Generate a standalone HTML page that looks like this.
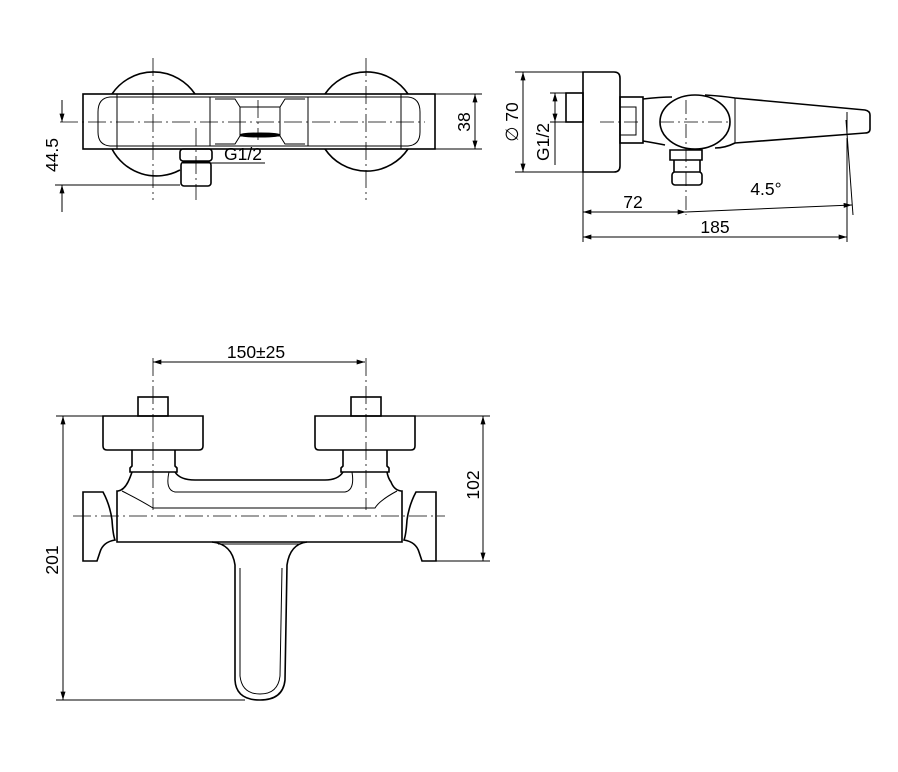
<!DOCTYPE html>
<html><head><meta charset="utf-8"><style>
html,body{margin:0;padding:0;background:#fff}
svg{display:block}
text{font-family:"Liberation Sans",sans-serif;font-size:17.5px;fill:#000}
</style></head><body>
<svg width="898" height="772" viewBox="0 0 898 772" xmlns="http://www.w3.org/2000/svg">
<defs>
<marker id="a" viewBox="0 0 10 6" refX="10" refY="3" markerWidth="10" markerHeight="5" orient="auto-start-reverse" markerUnits="userSpaceOnUse"><path d="M0,0 L10,3 L0,6 Z" fill="#000" stroke="none"/></marker>
</defs>
<g fill="none" stroke="#000" stroke-width="1">

<!-- ===== TOP VIEW ===== -->
<g stroke-width="1.6">
<path d="M112,94 A50,50 0 0 1 195,94"/>
<path d="M112,149 A50,50 0 0 0 180,170"/>
<path d="M325,94 A50,50 0 0 1 408,94"/>
<path d="M325,149 A50,50 0 0 0 408,149"/>
<rect x="83" y="94" width="352" height="55"/>
<rect x="180" y="149" width="32" height="12" rx="3"/>
<rect x="181" y="162" width="30" height="24" rx="3"/>
</g>
<line x1="115" y1="97" x2="403" y2="97"/>
<line x1="115" y1="146" x2="403" y2="146"/>
<path d="M117,97 L110,97 Q98,98 98,112 L98,132 Q98,145 110,146 L117,146"/>
<path d="M401,97 L408,97 Q420,98 420,112 L420,132 Q420,145 408,146 L401,146"/>
<line x1="117" y1="94" x2="117" y2="149"/>
<line x1="401" y1="94" x2="401" y2="149"/>
<line x1="210" y1="97" x2="210" y2="146"/>
<line x1="308" y1="97" x2="308" y2="146"/>
<path d="M215,99 L235,99 L240,107 L280,107 L285,99 L305,99"/>
<path d="M215,144 L235,144 L240,136 L280,136 L285,144 L305,144"/>
<line x1="240" y1="107" x2="240" y2="136"/>
<line x1="280" y1="107" x2="280" y2="136"/>
<ellipse cx="260" cy="135" rx="20" ry="2" fill="#000"/>
<line x1="183" y1="163" x2="265" y2="163"/>
<g stroke-width="0.8" stroke-dasharray="18,4,2,4">
<line x1="153" y1="58" x2="153" y2="200"/>
<line x1="366" y1="58" x2="366" y2="200"/>
<line x1="60" y1="122" x2="425" y2="122"/>
<line x1="196" y1="128" x2="196" y2="200"/>
<line x1="258" y1="100" x2="258" y2="140"/>
</g>
<line x1="55" y1="185" x2="180" y2="185"/>
<line x1="62" y1="100" x2="62" y2="122" marker-end="url(#a)"/>
<line x1="62" y1="212" x2="62" y2="185" marker-end="url(#a)"/>
<line x1="435" y1="94" x2="482" y2="94"/>
<line x1="435" y1="149" x2="482" y2="149"/>
<line x1="475" y1="94" x2="475" y2="149" marker-start="url(#a)" marker-end="url(#a)"/>

<!-- ===== SIDE VIEW ===== -->
<g stroke-width="1.6">
<path d="M583,72 L614,72 Q620,72 620,78 L620,166 Q620,172 614,172 L583,172 Z"/>
<rect x="566" y="93" width="17" height="29"/>
<rect x="620" y="97" width="23" height="46"/>
<path d="M643,99 Q660,97 672,97"/>
<path d="M643,141 Q655,143 665,145"/>
<ellipse cx="695" cy="122" rx="35" ry="27"/>
<path d="M705,95 Q722,96 735,98 L865,110 Q870,111 870,115 L870,129 Q870,133 865,133 L735,143 Q725,148 715,148"/>
<path d="M670,150 L702,150 L702,160 L670,160 Z"/>
<rect x="672" y="172" width="30" height="13" rx="3"/>
<path d="M674,160 L674,172 M700,160 L700,172"/>
</g>
<rect x="620" y="107" width="16" height="28"/>
<line x1="735" y1="98" x2="735" y2="143"/>
<line x1="847" y1="112" x2="847" y2="133"/>
<g stroke-width="0.8" stroke-dasharray="14,4,2,4">
<line x1="660" y1="122" x2="730" y2="122"/>
<line x1="686" y1="100" x2="686" y2="215"/>
<line x1="600" y1="122" x2="640" y2="122"/>
</g>
<line x1="515" y1="72" x2="583" y2="72"/>
<line x1="515" y1="172" x2="583" y2="172"/>
<line x1="523" y1="72" x2="523" y2="172" marker-start="url(#a)" marker-end="url(#a)"/>
<line x1="550" y1="93" x2="566" y2="93"/>
<line x1="550" y1="122" x2="566" y2="122"/>
<line x1="555" y1="93" x2="555" y2="122" marker-start="url(#a)" marker-end="url(#a)"/>
<line x1="555" y1="122" x2="555" y2="165"/>
<line x1="583" y1="172" x2="583" y2="242"/>
<line x1="847" y1="138" x2="847" y2="242"/>
<line x1="846" y1="120" x2="853" y2="215"/>
<line x1="583" y1="212" x2="686" y2="212" marker-start="url(#a)" marker-end="url(#a)"/>
<line x1="686" y1="212" x2="852" y2="205" marker-end="url(#a)"/>
<line x1="583" y1="237" x2="847" y2="237" marker-start="url(#a)" marker-end="url(#a)"/>

<!-- ===== FRONT VIEW ===== -->
<g stroke-width="1.6">
<rect x="138" y="397" width="30" height="19"/>
<rect x="351" y="397" width="30" height="19"/>
<path d="M103,416 L203,416 L203,446 Q203,450 199,450 L107,450 Q103,450 103,446 Z"/>
<path d="M315,416 L415,416 L415,446 Q415,450 411,450 L319,450 Q315,450 315,446 Z"/>
<path d="M132,450 L132,466 L130,468 L130,472 L177,472 L177,468 L175,466 L175,450"/>
<path d="M343,450 L343,466 L341,468 L341,472 L389,472 L389,468 L387,466 L387,450"/>
<path d="M132,472 Q130,478 128,482 Q124,490 118,491 L117,491 L117,542 L402,542 L402,491 L401,491 Q394,490 391,482 Q388,478 387,472"/>
<path d="M175,472 Q180,480 195,480 L325,480 Q338,480 343,472"/>
<path d="M83,492 L103,492 Q110,505 112,520 Q113,535 115,540 Q103,542 100,552 L97,561 L83,561 Z"/>
<path d="M436,492 L416,492 Q409,505 407,520 Q406,535 404,540 Q416,542 419,552 L422,561 L436,561 Z"/>
<path d="M212,542 Q232,544 235,565 L235,680 Q236,700 260,700 Q283,700 285,680 L287,565 Q290,544 307,542"/>
</g>
<path d="M122,491 Q140,500 153,508 L375,508 Q380,500 397,491"/>
<path d="M169,472 Q165,490 175,492 L345,492 Q355,490 352,472"/>
<path d="M218,544 L301,544"/>
<path d="M240,568 L240,676 Q242,694 260,694 Q278,694 280,676 L282,568"/>
<g stroke-width="0.8" stroke-dasharray="18,4,2,4">
<line x1="153" y1="358" x2="153" y2="510"/>
<line x1="366" y1="358" x2="366" y2="510"/>
<line x1="73" y1="516" x2="445" y2="516"/>
</g>
<line x1="153" y1="362" x2="365" y2="362" marker-start="url(#a)" marker-end="url(#a)"/>
<line x1="56" y1="416" x2="103" y2="416"/>
<line x1="56" y1="700" x2="245" y2="700"/>
<line x1="63" y1="416" x2="63" y2="700" marker-start="url(#a)" marker-end="url(#a)"/>
<line x1="415" y1="416" x2="490" y2="416"/>
<line x1="436" y1="561" x2="490" y2="561"/>
<line x1="483" y1="416" x2="483" y2="561" marker-start="url(#a)" marker-end="url(#a)"/>
</g>

<text x="52" y="155" text-anchor="middle" transform="rotate(-90 52 155)" dy="6">44.5</text>
<text x="224" y="160">G1/2</text>
<text x="464" y="122" text-anchor="middle" transform="rotate(-90 464 122)" dy="6">38</text>
<text x="512" y="122" text-anchor="middle" transform="rotate(-90 512 122)" dy="6">&#8709; 70</text>
<text x="543" y="142" text-anchor="middle" transform="rotate(-90 543 142)" dy="6">G1/2</text>
<text x="633" y="208" text-anchor="middle">72</text>
<text x="766" y="195" text-anchor="middle">4.5°</text>
<text x="715" y="233" text-anchor="middle">185</text>
<text x="256" y="358" text-anchor="middle">150±25</text>
<text x="52" y="560" text-anchor="middle" transform="rotate(-90 52 560)" dy="6">201</text>
<text x="473" y="485" text-anchor="middle" transform="rotate(-90 473 485)" dy="6">102</text>
</svg>
</body></html>
